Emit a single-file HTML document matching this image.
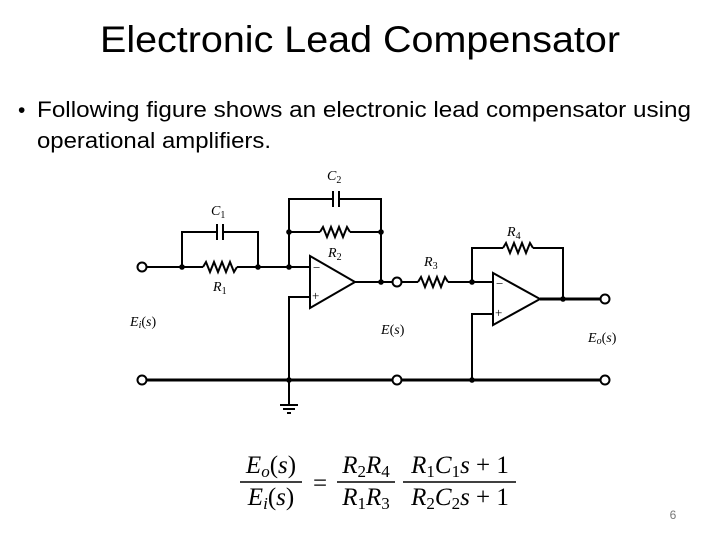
<!DOCTYPE html>
<html><head><meta charset="utf-8"><style>
html,body{margin:0;padding:0;background:#fff}
svg{display:block}
</style></head><body>
<svg width="720" height="540" viewBox="0 0 720 540" xmlns="http://www.w3.org/2000/svg">
<text x="100" y="52" font-family="Liberation Sans, sans-serif" font-size="37" fill="#000" textLength="520" lengthAdjust="spacingAndGlyphs">Electronic Lead Compensator</text>
<text x="18" y="117" font-family="Liberation Sans, sans-serif" font-size="21" fill="#000">•</text>
<text x="37" y="117" font-family="Liberation Sans, sans-serif" font-size="22" fill="#000" textLength="654" lengthAdjust="spacingAndGlyphs">Following figure shows an electronic lead compensator using</text>
<text x="37" y="148" font-family="Liberation Sans, sans-serif" font-size="22" fill="#000" textLength="234" lengthAdjust="spacingAndGlyphs">operational amplifiers.</text>

<g stroke="#000" stroke-width="2" fill="none">
<line x1="146" y1="267" x2="203" y2="267"/>
<polyline points="203,267 206,262 210,272 214,262 218,272 222,262 226,272 230,262 234,272 237,267"/>
<line x1="237" y1="267" x2="310" y2="267"/>
<polyline points="182,267 182,232 217,232"/>
<polyline points="223,232 258,232 258,267"/>
<line x1="217" y1="224" x2="217" y2="240"/>
<line x1="223" y1="224" x2="223" y2="240"/>
<polyline points="289,267 289,199 333,199"/>
<polyline points="339,199 381,199 381,282"/>
<line x1="333" y1="191" x2="333" y2="207"/>
<line x1="339" y1="191" x2="339" y2="207"/>
<line x1="289" y1="232" x2="320" y2="232"/>
<polyline points="320,232 323,227 327,237 331,227 335,237 339,227 343,237 347,227 350,232"/>
<line x1="350" y1="232" x2="381" y2="232"/>
<polygon points="310,256 310,308 355,282"/>
<line x1="355" y1="282" x2="393" y2="282"/>
<polyline points="310,297 289,297 289,405"/>
<line x1="401" y1="282" x2="418" y2="282"/>
<polyline points="418,282 421,277 425,287 429,277 433,287 437,277 441,287 445,277 448,282"/>
<line x1="448" y1="282" x2="493" y2="282"/>
<polyline points="472,282 472,248 503,248"/>
<polyline points="503,248 506,243 510,253 514,243 518,253 522,243 526,253 530,243 533,248"/>
<polyline points="533,248 563,248 563,299"/>
<polygon points="493,273 493,325 540,299"/>
<line x1="540" y1="299" x2="601" y2="299" stroke-width="3"/>
<polyline points="493,314 472,314 472,380"/>
<line x1="146" y1="380" x2="393" y2="380" stroke-width="3"/>
<line x1="401" y1="380" x2="601" y2="380" stroke-width="3"/>
<line x1="280" y1="405" x2="298" y2="405"/>
<line x1="283" y1="409" x2="295" y2="409"/>
<line x1="287" y1="413" x2="291" y2="413"/>
<circle cx="142" cy="267" r="4.5" fill="#fff"/>
<circle cx="142" cy="380" r="4.5" fill="#fff"/>
<circle cx="397" cy="282" r="4.5" fill="#fff"/>
<circle cx="397" cy="380" r="4.5" fill="#fff"/>
<circle cx="605" cy="299" r="4.5" fill="#fff"/>
<circle cx="605" cy="380" r="4.5" fill="#fff"/>
</g>
<g fill="#000">
<circle cx="182" cy="267" r="2.8"/><circle cx="258" cy="267" r="2.8"/>
<circle cx="289" cy="267" r="2.8"/><circle cx="289" cy="232" r="2.8"/>
<circle cx="381" cy="232" r="2.8"/><circle cx="381" cy="282" r="2.8"/>
<circle cx="472" cy="282" r="2.8"/><circle cx="563" cy="299" r="2.8"/>
<circle cx="289" cy="380" r="2.8"/><circle cx="472" cy="380" r="2.8"/>
</g>
<g font-family="Liberation Serif, serif" font-size="14" fill="#000">
<text x="313" y="272" font-size="13">−</text><text x="312" y="300" font-size="13">+</text>
<text x="496" y="288" font-size="13">−</text><text x="495" y="317" font-size="13">+</text>
<text x="211" y="215" font-style="italic">C<tspan font-size="10" dy="3" font-style="normal">1</tspan></text>
<text x="213" y="291" font-style="italic">R<tspan font-size="10" dy="3" font-style="normal">1</tspan></text>
<text x="327" y="180" font-style="italic">C<tspan font-size="10" dy="3" font-style="normal">2</tspan></text>
<text x="328" y="257" font-style="italic">R<tspan font-size="10" dy="3" font-style="normal">2</tspan></text>
<text x="424" y="266" font-style="italic">R<tspan font-size="10" dy="3" font-style="normal">3</tspan></text>
<text x="507" y="236" font-style="italic">R<tspan font-size="10" dy="3" font-style="normal">4</tspan></text>
<text x="130" y="326" font-style="italic">E<tspan font-size="10" dy="2">i</tspan><tspan dy="-2" font-style="normal">(</tspan>s<tspan font-style="normal">)</tspan></text>
<text x="381" y="334" font-style="italic">E<tspan font-style="normal">(</tspan>s<tspan font-style="normal">)</tspan></text>
<text x="588" y="342" font-style="italic">E<tspan font-size="10" dy="2">o</tspan><tspan dy="-2" font-style="normal">(</tspan>s<tspan font-style="normal">)</tspan></text>
</g>
<g font-family="Liberation Serif, serif" font-size="25" fill="#000">
<text x="271" y="473" text-anchor="middle"><tspan font-style="italic">E</tspan><tspan font-style="italic" font-size="17" dy="4">o</tspan><tspan dy="-4">(</tspan><tspan font-style="italic">s</tspan>)</text>
<text x="271" y="505" text-anchor="middle"><tspan font-style="italic">E</tspan><tspan font-style="italic" font-size="17" dy="4">i</tspan><tspan dy="-4">(</tspan><tspan font-style="italic">s</tspan>)</text>
<line x1="240" y1="482" x2="302" y2="482" stroke="#000" stroke-width="1.5"/>
<text x="320" y="491" text-anchor="middle">=</text>
<text x="366" y="473" text-anchor="middle"><tspan font-style="italic">R</tspan><tspan font-size="17" dy="4">2</tspan><tspan font-style="italic" dy="-4">R</tspan><tspan font-size="17" dy="4">4</tspan></text>
<text x="366" y="505" text-anchor="middle"><tspan font-style="italic">R</tspan><tspan font-size="17" dy="4">1</tspan><tspan font-style="italic" dy="-4">R</tspan><tspan font-size="17" dy="4">3</tspan></text>
<line x1="337" y1="482" x2="395" y2="482" stroke="#000" stroke-width="1.5"/>
<text x="460" y="473" text-anchor="middle"><tspan font-style="italic">R</tspan><tspan font-size="17" dy="4">1</tspan><tspan font-style="italic" dy="-4">C</tspan><tspan font-size="17" dy="4">1</tspan><tspan font-style="italic" dy="-4">s</tspan> + 1</text>
<text x="460" y="505" text-anchor="middle"><tspan font-style="italic">R</tspan><tspan font-size="17" dy="4">2</tspan><tspan font-style="italic" dy="-4">C</tspan><tspan font-size="17" dy="4">2</tspan><tspan font-style="italic" dy="-4">s</tspan> + 1</text>
<line x1="403" y1="482" x2="516" y2="482" stroke="#000" stroke-width="1.5"/>
</g>
<text x="673" y="519" font-family="Liberation Sans, sans-serif" font-size="12" fill="#777" text-anchor="middle">6</text>
</svg>
</body></html>
